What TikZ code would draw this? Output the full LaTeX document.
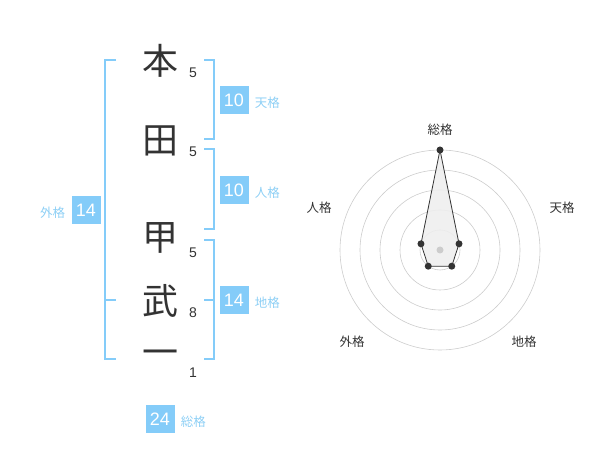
\documentclass[tikz,border=0pt]{standalone}
\usepackage{fontspec}
\setmainfont{Liberation Sans}
\newfontfamily\jp{Noto Sans CJK JP}
\usetikzlibrary{positioning, calc}
\definecolor{kakublue}{HTML}{84CCF9}
\definecolor{kakutext}{HTML}{8DCFF5}
\definecolor{inkgray}{HTML}{333333}
\definecolor{ringgray}{HTML}{CCCCCC}
\definecolor{areagray}{HTML}{EEEEEE}

\begin{document}
\begin{tikzpicture}[x=1pt, y=-1pt,
	kanji/.style={text=inkgray, font=\jp\fontsize{36}{36}\selectfont, inner sep=0pt},
	stroke/.style={text=inkgray, font=\fontsize{14}{14}\selectfont, inner sep=0pt},
	score/.style={fill=kakublue, text=white, minimum width=29pt, minimum height=28pt, inner sep=0pt, font=\fontsize{18}{18}\selectfont},
	kaku/.style={text=kakutext, font=\jp\fontsize{12.5}{12.5}\selectfont, inner sep=0pt, yshift=-3pt},
	axis/.style={text=inkgray, font=\jp\fontsize{12.5}{12.5}\selectfont, inner sep=0pt},
	brace/.style={draw=kakublue, line width=1.4pt},
	dot/.style={circle, fill=inkgray, inner sep=0pt, minimum size=7pt}]
			\useasboundingbox (0,0) rectangle (600,470);
			% name characters and stroke counts
			\node[kanji] (c1) at (160, 61) {本};
			\node[kanji] (c2) at (160, 141) {田};
			\node[kanji] (c3) at (160, 238) {甲};
			\node[kanji] (c4) at (160, 301) {武};
			\node[kanji] (c5) at (160, 358) {一};
			\node[stroke] (s1) at (193, 73) {5};
			\node[stroke] (s2) at (193, 152) {5};
			\node[stroke] (s3) at (193, 253) {5};
			\node[stroke] (s4) at (193, 313) {8};
			\node[stroke] (s5) at (193, 373) {1};
			
			% brackets
			\draw[brace] (116, 60) -- (105, 60) -- (105, 359) -- (116, 359);
			\draw[brace] (105, 300) -- (116, 300);
			\draw[brace] (204, 60) -- (214, 60) -- (214, 139) -- (204, 139);
			\draw[brace] (204, 149) -- (214, 149) -- (214, 229) -- (204, 229);
			\draw[brace] (204, 240) -- (214, 240) -- (214, 359) -- (204, 359);
			\draw[brace] (204, 300) -- (214, 300);
			
			% scores
			\node[score] (ten) at (234, 100) {10};
			\node[kaku, right=6pt of ten] (tenl) {天格};
			\node[score] (jin) at (234, 190) {10};
			\node[kaku, right=6pt of jin] (jinl) {人格};
			\node[score] (chi) at (234, 300) {14};
			\node[kaku, right=6pt of chi] (chil) {地格};
			\node[score] (gai) at (86, 210) {14};
			\node[kaku, left=6pt of gai] (gail) {外格};
			\node[score] (sou) at (160, 419) {24};
			\node[kaku, right=6pt of sou] (soul) {総格};
			
			% radar
			\coordinate (o) at (440, 250);
			\foreach \r in {20, 40, 60, 80, 100}
				\draw[ringgray, line width=0.6pt] (o) circle[radius=\r pt];
			\coordinate (p1) at ($(o)+(-90:100)$);
			\coordinate (p2) at ($(o)+(-18:20)$);
			\coordinate (p3) at ($(o)+(54:20)$);
			\coordinate (p4) at ($(o)+(126:20)$);
			\coordinate (p5) at ($(o)+(198:20)$);
			\draw[inkgray, fill=areagray, fill opacity=0.9, line width=0.8pt] (p1) -- (p2) -- (p3) -- (p4) -- (p5) -- cycle;
			\node[circle, fill=ringgray, inner sep=0pt, minimum size=7pt] (mid) at (o) {};
			\foreach \i in {1,...,5}
				\node[dot] (d\i) at (p\i) {};
			\node[axis] (a1) at (440, 130) {総格};
			\node[axis] (a2) at (562, 208) {天格};
			\node[axis] (a3) at (524, 342) {地格};
			\node[axis] (a4) at (352, 342) {外格};
			\node[axis] (a5) at (319, 208) {人格};
		\end{tikzpicture}
\end{document}
